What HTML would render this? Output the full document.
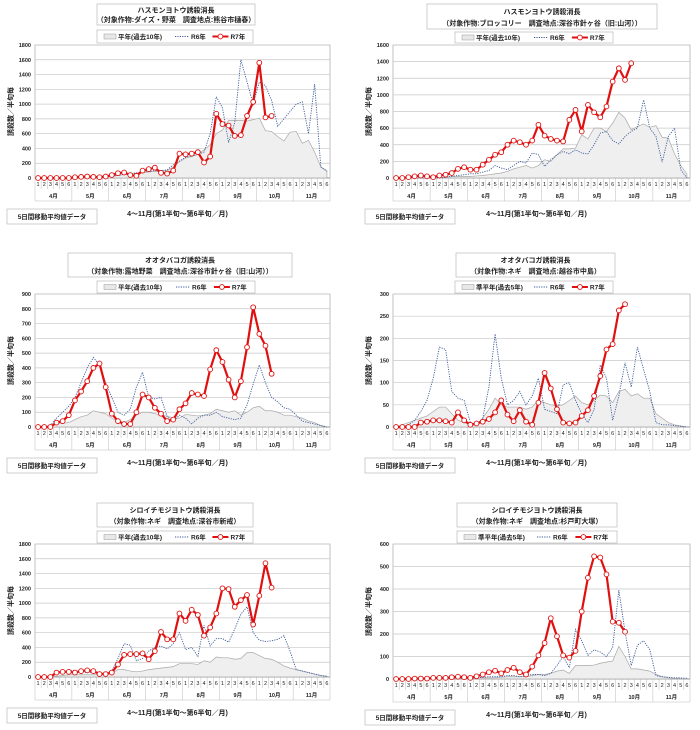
<!DOCTYPE html>
<html><head><meta charset="utf-8">
<style>
html,body{margin:0;padding:0;background:#fff;}
svg{display:block;font-family:"Liberation Sans","Noto Sans CJK JP",sans-serif;}
</style></head>
<body>
<svg id="c" width="700" height="730" viewBox="0 0 700 730" xmlns="http://www.w3.org/2000/svg"></svg>
<script>
const months = ["4月","5月","6月","7月","8月","9月","10月","11月"];
const halfLabels = ["1","2","3","4","5","6"];

const p1Avg = [0,0,0,0,0,0, 5,10,10,15,15,20, 25,35,45,55,60,70, 80,90,90,100,150,220, 270,290,320,380,450,600, 650,780,780,780,770,790, 810,640,630,560,500,620, 630,470,510,350,150,100];
const p1R6 = [0,0,0,0,0,0, 5,10,10,15,15,20, 25,35,50,60,70,80, 90,100,100,110,180,230, 280,300,320,350,600,1100, 950,480,750,1600,1300,1000, 1300,1250,1050,700,800,900, 1000,1030,600,1270,150,90];
const p1R7 = [0,0,0,0,0,0, 10,15,20,15,10,20, 40,65,75,40,30,100, 120,140,70,60,100,330, 320,330,350,210,290,870, 730,710,570,580,840,1030, 1560,820,840];

const p2Avg = [0,0,0,0,0,0, 0,5,10,15,20,20, 20,25,30,40,50,60, 80,110,130,150,120,150, 220,200,280,350,350,360, 520,470,600,600,560,660, 790,720,580,620,650,610, 630,490,480,290,150,50];
const p2R6 = [0,0,0,0,0,0, 0,0,10,20,30,40, 50,50,70,90,150,120, 100,150,200,180,300,280, 140,220,280,320,290,340, 300,290,400,540,560,450, 410,500,560,600,940,600, 500,190,500,600,100,0];
const p2R7 = [0,0,10,20,30,20, 10,30,40,60,110,130, 100,100,160,220,280,310, 400,450,430,400,450,640, 510,470,450,440,700,820, 560,880,790,730,860,1160, 1320,1180,1380];

const p3Avg = [0,0,10,20,25,30, 50,70,80,110,100,90, 60,40,30,50,80,100, 100,90,80,75,60,60, 85,80,75,80,90,120, 110,100,110,80,100,130, 140,110,110,100,80,80, 70,60,40,30,10,0];
const p3R6 = [0,0,10,60,100,140, 200,300,400,470,420,300, 200,100,80,120,270,370, 200,190,200,70,40,80, 60,20,60,80,80,100, 70,60,50,60,150,290, 420,300,200,170,130,120, 80,40,30,20,10,0];
const p3R7 = [0,0,0,30,40,80, 180,240,310,400,430,270, 90,40,20,20,100,220, 200,130,90,40,50,120, 160,230,220,210,390,520, 440,320,200,310,540,810, 630,550,360];

const p4Avg = [0,5,10,15,20,25, 35,45,45,30,15,10, 5,5,20,40,65,50, 45,45,45,40,45,60, 55,50,48,50,60,70, 55,50,60,72,70,55, 80,85,70,75,65,65, 30,20,10,5,2,0];
const p4R6 = [0,0,5,15,35,60, 110,180,175,80,65,60, 10,5,20,90,210,110, 50,60,80,50,70,110, 40,35,30,95,100,60, 30,10,40,140,110,15, 70,145,90,180,130,80, 10,5,5,3,2,0];
const p4R7 = [0,0,0,0,10,12, 15,15,13,10,33,15, 5,8,12,18,33,60, 28,13,38,12,5,55, 122,87,40,10,8,10, 25,38,70,115,175,187, 263,277];

const p5Avg = [0,0,5,10,20,30, 30,30,30,30,30,35, 50,100,100,80,70,80, 100,110,120,130,140,180, 180,180,170,220,200,270, 260,260,240,250,330,330, 290,250,240,200,150,120, 100,80,60,40,20,10];
const p5R6 = [0,0,10,40,70,90, 90,70,60,60,50,50, 80,250,450,430,220,250, 350,400,420,380,450,600, 370,400,280,700,420,520, 520,470,650,850,950,600, 500,480,490,510,560,350, 100,80,60,40,20,10];
const p5R7 = [0,0,0,60,70,70, 60,80,90,80,40,40, 60,170,300,310,310,320, 240,350,610,510,510,860, 760,910,840,560,670,860, 1200,1190,950,1040,1110,710, 1100,1540,1210];

const p6Avg = [0,0,0,0,0,0, 0,0,0,2,3,5, 5,5,5,5,5,8, 10,10,10,10,15,20, 20,25,35,40,25,60, 60,60,62,70,75,80, 145,100,45,45,40,35, 20,10,5,3,2,0];
const p6R6 = [0,0,0,0,0,0, 2,2,3,3,3,3, 3,5,8,10,10,10, 15,15,10,15,20,20, 15,25,60,100,50,220, 170,105,130,120,100,140, 395,210,60,150,170,130, 15,10,8,5,5,3];
const p6R7 = [0,0,0,2,2,2, 5,5,5,8,10,8, 5,12,20,30,37,25, 40,50,30,20,55,105, 160,270,190,105,95,125, 300,450,545,540,465,255, 250,210];

const panels = [
 {id:"p1",L:35,R:330,T:45,B:178,max:1800,step:200,t1:"ハスモンヨトウ誘殺消長",t2:"（対象作物:ダイズ・野菜　調査地点:熊谷市樋春）",tb:[97,4,255,25],lg:[97,30,253,43],avgLabel:"平年(過去10年)",avg:p1Avg,r6:p1R6,r7:p1R7},
 {id:"p2",L:393,R:690,T:45,B:178,max:1600,step:200,t1:"ハスモンヨトウ誘殺消長",t2:"（対象作物:ブロッコリー　調査地点:深谷市針ヶ谷（旧:山河））",tb:[427,4,657,29],lg:[455,32,613,43],avgLabel:"平年(過去10年)",avg:p2Avg,r6:p2R6,r7:p2R7},
 {id:"p3",L:35,R:330,T:294,B:427,max:900,step:100,t1:"オオタバコガ誘殺消長",t2:"（対象作物:露地野菜　調査地点:深谷市針ヶ谷（旧:山河））",tb:[68,253,292,277],lg:[97,281,255,293],avgLabel:"平年(過去10年)",avg:p3Avg,r6:p3R6,r7:p3R7},
 {id:"p4",L:393,R:690,T:294,B:427,max:300,step:50,t1:"オオタバコガ誘殺消長",t2:"（対象作物:ネギ　調査地点:越谷市中島）",tb:[456,253,615,277],lg:[455,281,613,293],avgLabel:"準平年(過去5年)",avg:p4Avg,r6:p4R6,r7:p4R7},
 {id:"p5",L:35,R:330,T:544,B:677,max:1800,step:200,t1:"シロイチモジヨトウ誘殺消長",t2:"（対象作物:ネギ　調査地点:深谷市新戒）",tb:[97,503,253,527],lg:[97,531,253,543],avgLabel:"平年(過去10年)",avg:p5Avg,r6:p5R6,r7:p5R7},
 {id:"p6",L:393,R:690,T:544,B:679,max:600,step:100,t1:"シロイチモジヨトウ誘殺消長",t2:"（対象作物:ネギ　調査地点:杉戸町大塚）",tb:[457,503,617,527],lg:[457,531,617,543],avgLabel:"準平年(過去5年)",avg:p6Avg,r6:p6R6,r7:p6R7}
];

const svg = document.getElementById('c');
const NS = "http://www.w3.org/2000/svg";
function mk(tag, parent, attrs){ const e=document.createElementNS(NS,tag); for(const k in attrs) e.setAttribute(k,attrs[k]); parent.appendChild(e); return e; }
function txt(parent, x, y, s, size, anchor, weight){ const t=mk('text',parent,{x:x,y:y,'font-size':size,'text-anchor':anchor||'middle','font-weight':weight||'normal',fill:'#222'}); t.textContent=s; return t; }

panels.forEach(p=>{
  const g = mk('g',svg,{});
  
  
  const n = 48, sw = (p.R-p.L)/n;
  const xs = i => p.L + sw*(i+0.5);
  const ys = v => p.B - (v/p.max)*(p.B-p.T);
  // plot area
  const pa = mk('rect',g,{x:p.L,y:p.T,width:p.R-p.L,height:p.B-p.T,fill:'#fff',stroke:'#999','stroke-width':0.6});
  
  
  for(let v=0; v<=p.max; v+=p.step){
    const y=ys(v);
    const gl = mk('line',g,{x1:p.L,x2:p.R,y1:y,y2:y,stroke:'#c8c8c8','stroke-width':0.7});
    
    
    const tl = txt(g,p.L-4,y+2,String(v),5.5,'end','bold');
    
    
  }
  // category axis
  const ab = p.B+23;
  mk('line',g,{x1:p.L,x2:p.R,y1:p.B,y2:p.B,stroke:'#888','stroke-width':0.8});
  mk('line',g,{x1:p.L,x2:p.R,y1:ab,y2:ab,stroke:'#bbb','stroke-width':0.6});
  for(let i=0;i<=n;i++){
    const x=p.L+sw*i;
    mk('line',g,{x1:x,x2:x,y1:p.B,y2:(i%6===0)?ab:p.B+11,stroke:'#bbb','stroke-width':0.5});
  }
  for(let i=0;i<n;i++){
    const t = txt(g,xs(i),p.B+8,halfLabels[i%6],5.5,'middle');
    
    
  }
  months.forEach((m,k)=>{
    const t = txt(g,p.L+sw*(6*k+3),p.B+20,m,5.5,'middle','bold');
    
    
  });
  // avg area
  let d = 'M'+xs(0)+','+p.B;
  p.avg.forEach((v,i)=>{ d+=' L'+xs(i)+','+ys(v); });
  d += ' L'+xs(p.avg.length-1)+','+p.B+' Z';
  const av = mk('path',g,{d:d,fill:'#efefef',stroke:'#a8a8a8','stroke-width':0.7});
  
  
  // R6
  const r6 = mk('polyline',g,{points:p.r6.map((v,i)=>xs(i)+','+ys(v)).join(' '),fill:'none',stroke:'#3b5a9a','stroke-width':0.9,'stroke-dasharray':'1.2,1.2'});
  
  
  // R7
  const r7 = mk('polyline',g,{points:p.r7.map((v,i)=>xs(i)+','+ys(v)).join(' '),fill:'none',stroke:'#e01010','stroke-width':2.2,'stroke-linejoin':'round'});
  
  
  p.r7.forEach((v,i)=>{
    const c = mk('circle',g,{cx:xs(i),cy:ys(v),r:2.4,fill:'#fff',stroke:'#e01010','stroke-width':0.9});
    
    
  });
  // title box
  const [tx1,ty1,tx2,ty2]=p.tb;
  const tbx = mk('rect',g,{x:tx1,y:ty1,width:tx2-tx1,height:ty2-ty1,fill:'#fff',stroke:'#bbb','stroke-width':0.7});
  
  
  const tc=(tx1+tx2)/2, th=ty2-ty1;
  const t1 = txt(g,tc,ty1+th*0.4,p.t1,7,'middle','bold');
  
  
  const t2 = txt(g,tc,ty1+th*0.85,p.t2,7,'middle','bold');
  
  
  // legend
  const [lx1,ly1,lx2,ly2]=p.lg, lm=(ly1+ly2)/2, lw=lx2-lx1;
  const lb = mk('rect',g,{x:lx1,y:ly1,width:lw,height:ly2-ly1,fill:'#fff',stroke:'#bbb','stroke-width':0.7});
  
  
  mk('rect',g,{x:lx1+7,y:lm-2.5,width:12,height:5,fill:'#e8e8e8',stroke:'#999','stroke-width':0.5});
  const le1 = txt(g,lx1+21,lm+2.5,p.avgLabel,6.5,'start','bold');
  
  
  const x6 = lx1+lw*0.5;
  mk('line',g,{x1:x6,x2:x6+14,y1:lm,y2:lm,stroke:'#3b5a9a','stroke-width':0.9,'stroke-dasharray':'1.2,1.2'});
  const le2 = txt(g,x6+16,lm+2.5,'R6年',6.5,'start','bold');
  
  
  const x7 = lx1+lw*0.74;
  mk('line',g,{x1:x7,x2:x7+16,y1:lm,y2:lm,stroke:'#e01010','stroke-width':2});
  mk('circle',g,{cx:x7+8,cy:lm,r:2.4,fill:'#fff',stroke:'#e01010','stroke-width':0.9});
  const le3 = txt(g,x7+18,lm+2.5,'R7年',6.5,'start','bold');
  
  
  // y axis title
  const yt = mk('text',g,{x:0,y:0,'font-size':7,'font-weight':'bold','text-anchor':'middle',fill:'#222',transform:'translate('+(p.L-22)+','+((p.T+p.B)/2)+') rotate(-90)'});
  yt.textContent='誘殺数／半旬毎';
  
  
  // x axis title
  const xt = txt(g,(p.L+p.R)/2-5,p.B+38,'4～11月(第1半旬～第6半旬／月)',7,'middle','bold');
  
  
  // note box
  const nx = p.L-28;
  const nb = mk('rect',g,{x:nx,y:p.B+31,width:90,height:15,fill:'#fff',stroke:'#bbb','stroke-width':0.7});
  
  
  const nt = txt(g,nx+45,p.B+41,'5日間移動平均値データ',6.5,'middle','bold');
  
  
});
</script>
</body></html>
